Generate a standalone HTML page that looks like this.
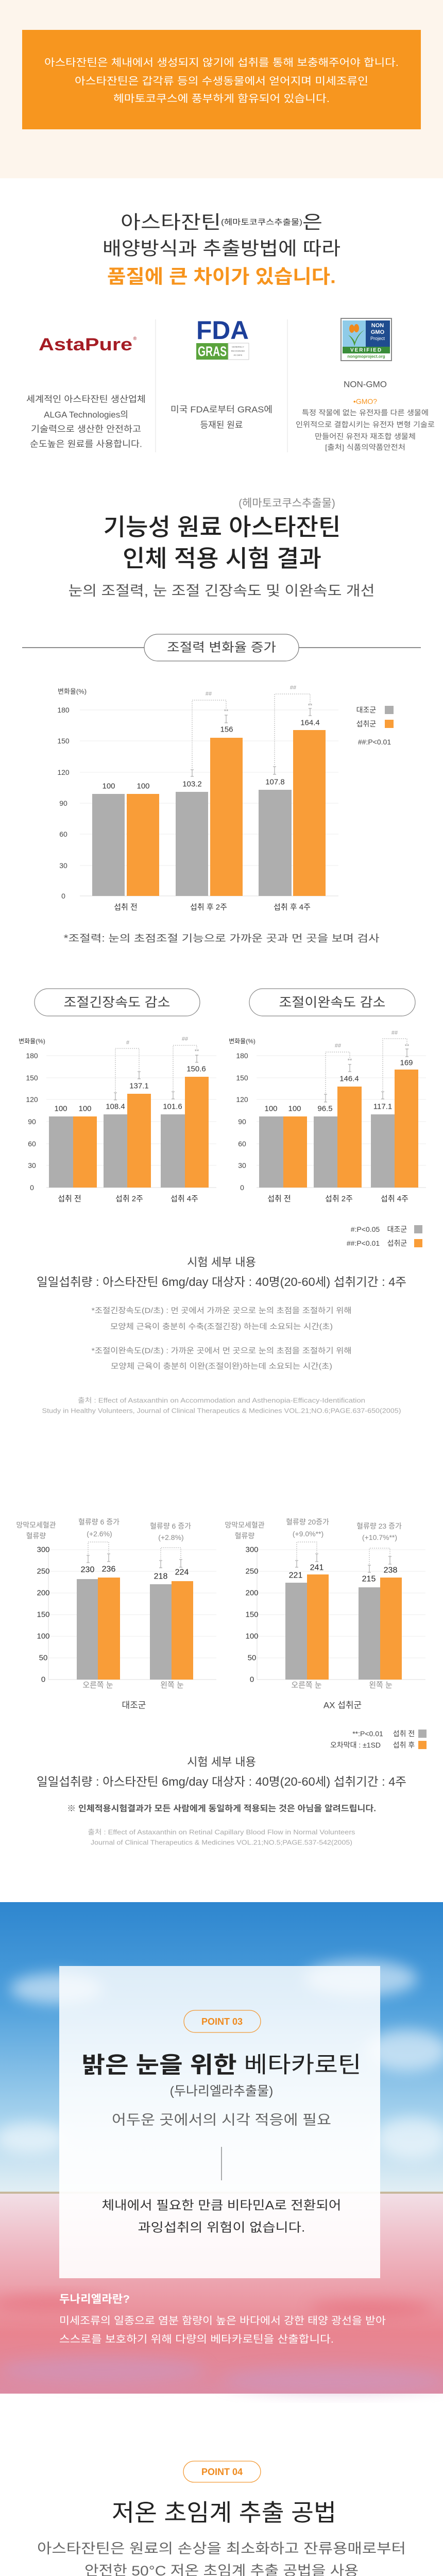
<!DOCTYPE html>
<html><head><meta charset="utf-8">
<style>
html,body{margin:0;padding:0;background:#fff;width:860px;height:5059px;overflow:hidden;}
svg{display:block;}
text{font-family:"Liberation Sans","Noto Sans CJK KR",sans-serif;dominant-baseline:central;text-anchor:middle;}
.g{fill:#aeaeae}.o{fill:#f99d38}
.dot{stroke:#aaa;stroke-width:1;stroke-dasharray:2,2;fill:none}
.eb{stroke:#999;stroke-width:1;fill:none}
.grid{stroke:#eee;stroke-width:1}
.tk{font-size:14px;fill:#444}
.vl{font-size:15px;fill:#333}
.sg{font-size:11px;fill:#999}
</style></head><body>
<svg width="860" height="5059" viewBox="0 0 860 5059" xmlns="http://www.w3.org/2000/svg">
<defs>
<linearGradient id="sky" x1="0" y1="0" x2="0" y2="1">
<stop offset="0" stop-color="#2e86cf"/><stop offset="0.35" stop-color="#4fa0dc"/><stop offset="0.75" stop-color="#a9d4ee"/><stop offset="1" stop-color="#e3eff4"/>
</linearGradient>
<linearGradient id="water" x1="0" y1="0" x2="0" y2="1">
<stop offset="0" stop-color="#f2dfe6"/><stop offset="0.3" stop-color="#eeb5c0"/><stop offset="0.7" stop-color="#e9848f"/><stop offset="1" stop-color="#dc8ca4"/>
</linearGradient>
<linearGradient id="panel" x1="0" y1="0" x2="0" y2="1">
<stop offset="0" stop-color="#fff" stop-opacity="0.82"/><stop offset="0.6" stop-color="#fff" stop-opacity="0.93"/><stop offset="1" stop-color="#fff" stop-opacity="0.9"/>
</linearGradient>
<filter id="bl"><feGaussianBlur stdDeviation="14"/></filter>
</defs>

<rect x="0" y="0" width="860" height="346" fill="#fdf5ec"/>
<rect x="43" y="58" width="774" height="193" fill="#f7961f"/>
<text x="430" y="122" font-size="20" fill="#fff" textLength="688" lengthAdjust="spacingAndGlyphs">아스타잔틴은 체내에서 생성되지 않기에 섭취를 통해 보충해주어야 합니다.</text>
<text x="430" y="158" font-size="20" fill="#fff" textLength="570" lengthAdjust="spacingAndGlyphs">아스타잔틴은 갑각류 등의 수생동물에서 얻어지며 미세조류인</text>
<text x="430" y="192" font-size="20" fill="#fff" textLength="420" lengthAdjust="spacingAndGlyphs">헤마토코쿠스에 풍부하게 함유되어 있습니다.</text>

<text x="430" y="431" fill="#333" font-size="36" textLength="392" lengthAdjust="spacingAndGlyphs">아스타잔틴<tspan font-size="15">(헤마토코쿠스추출물)</tspan>은</text>
<text x="430" y="482" fill="#333" font-size="36" textLength="462" lengthAdjust="spacingAndGlyphs">배양방식과 추출방법에 따라</text>
<text x="430" y="537" fill="#f7941d" font-size="37" font-weight="bold" textLength="444" lengthAdjust="spacingAndGlyphs">품질에 큰 차이가 있습니다.</text>

<line x1="302" y1="620" x2="302" y2="878" stroke="#e2e2e2"/>
<line x1="558" y1="620" x2="558" y2="878" stroke="#e2e2e2"/>
<text x="166" y="669" font-size="34" font-weight="bold" fill="#a51c24" textLength="182" lengthAdjust="spacingAndGlyphs">AstaPure</text>
<text x="262" y="657" font-size="9" fill="#a51c24">®</text>
<text x="432" y="641" font-size="50" font-weight="bold" fill="#1d3f99" textLength="102" lengthAdjust="spacingAndGlyphs">FDA</text>
<rect x="381" y="666" width="62" height="32" fill="#5aa33c"/>
<text x="412" y="682" font-size="27" font-weight="bold" fill="#fff" textLength="56" lengthAdjust="spacingAndGlyphs">GRAS</text>
<rect x="443" y="666" width="40" height="32" fill="#fff" stroke="#ccc"/>
<text x="462" y="673" font-size="4" fill="#555">GENERALLY</text>
<text x="462" y="681" font-size="4" fill="#555">RECOGNIZED</text>
<text x="462" y="689" font-size="4" fill="#555">AS SAFE</text>
<rect x="662" y="618" width="98" height="82" fill="#fff" stroke="#888" stroke-width="2"/>
<rect x="665" y="622" width="45" height="52" fill="#8fcbe8"/>
<rect x="710" y="622" width="47" height="52" fill="#1f4c8f"/>
<path d="M676 650 Q686 660 688 672 Q694 650 708 640 Q694 648 689 664 Q684 654 676 650Z" fill="#4a9a3a"/>
<ellipse cx="683" cy="638" rx="5" ry="8" fill="#f08a1c"/><ellipse cx="692" cy="637" rx="5" ry="8" fill="#f08a1c"/>
<text x="733" y="632" font-size="11" font-weight="bold" fill="#fff">NON</text>
<text x="733" y="645" font-size="11" font-weight="bold" fill="#fff">GMO</text>
<text x="733" y="657" font-size="9" fill="#fff">Project</text>
<rect x="665" y="673" width="92" height="13" fill="#3a8d3a"/>
<text x="711" y="680" font-size="10" font-weight="bold" fill="#fff" letter-spacing="2">VERIFIED</text>
<text x="711" y="692" font-size="8" font-weight="bold" fill="#4a9a3a">nongmoproject.org</text>

<g font-size="17" fill="#555">
<text x="167" y="775" textLength="232" lengthAdjust="spacingAndGlyphs">세계적인 아스타잔틴 생산업체</text>
<text x="167" y="805">ALGA Technologies의</text>
<text x="167" y="833" textLength="214" lengthAdjust="spacingAndGlyphs">기술력으로 생산한 안전하고</text>
<text x="167" y="862" textLength="218" lengthAdjust="spacingAndGlyphs">순도높은 원료를 사용합니다.</text>
<text x="430" y="795" textLength="198" lengthAdjust="spacingAndGlyphs">미국 FDA로부터 GRAS에</text>
<text x="430" y="825">등재된 원료</text>
</g>
<text x="709" y="746" font-size="17" fill="#555">NON-GMO</text>
<text x="709" y="779" font-size="14" fill="#f7941d">•GMO?</text>
<g font-size="14" fill="#666">
<text x="709" y="801" textLength="246" lengthAdjust="spacingAndGlyphs">특정 작물에 없는 유전자를 다른 생물에</text>
<text x="709" y="824" textLength="270" lengthAdjust="spacingAndGlyphs">인위적으로 결합시키는 유전자 변형 기술로</text>
<text x="709" y="847" textLength="196" lengthAdjust="spacingAndGlyphs">만들어진 유전자 재조합 생물체</text>
<text x="709" y="868" textLength="156" lengthAdjust="spacingAndGlyphs">[출처] 식품의약품안전처</text>
</g>

<text x="557" y="977" font-size="21" fill="#888">(헤마토코쿠스추출물)</text>
<text x="431" y="1023" font-size="46" fill="#222" font-weight="500" textLength="461" lengthAdjust="spacingAndGlyphs">기능성 원료 아스타잔틴</text>
<text x="431" y="1084" font-size="46" fill="#222" font-weight="500" textLength="386" lengthAdjust="spacingAndGlyphs">인체 적용 시험 결과</text>
<text x="430" y="1147" font-size="27" fill="#555" textLength="595" lengthAdjust="spacingAndGlyphs">눈의 조절력, 눈 조절 긴장속도 및 이완속도 개선</text>

<line x1="43" y1="1257" x2="817" y2="1257" stroke="#666" stroke-width="1.5"/>
<rect x="280" y="1231" width="300" height="52" rx="26" fill="#fff" stroke="#777" stroke-width="1.2"/>
<text x="430" y="1257" font-size="24" fill="#444" textLength="212" lengthAdjust="spacingAndGlyphs">조절력 변화율 증가</text>

<text x="140" y="1342" font-size="13" fill="#444">변화율(%)</text>
<g class="grid">
<line x1="155" y1="1378" x2="657" y2="1378"/><line x1="155" y1="1438" x2="657" y2="1438"/><line x1="155" y1="1499" x2="657" y2="1499"/>
<line x1="155" y1="1559" x2="657" y2="1559"/><line x1="155" y1="1619" x2="657" y2="1619"/><line x1="155" y1="1680" x2="657" y2="1680"/>
<line x1="155" y1="1739" x2="657" y2="1739" stroke="#ddd"/>
</g>
<g class="tk">
<text x="123" y="1378">180</text><text x="123" y="1438">150</text><text x="123" y="1499">120</text><text x="123" y="1559">90</text>
<text x="123" y="1619">60</text><text x="123" y="1680">30</text><text x="123" y="1739">0</text>
</g>
<rect class="g" x="179" y="1541" width="63" height="198"/><rect class="o" x="246" y="1541" width="63" height="198"/>
<rect class="g" x="341" y="1537" width="63" height="202"/><rect class="o" x="408" y="1432" width="63" height="307"/>
<rect class="g" x="502" y="1533" width="64" height="206"/><rect class="o" x="569" y="1417" width="63" height="322"/>
<g class="vl">
<text x="211" y="1526">100</text><text x="278" y="1526">100</text>
<text x="373" y="1522">103.2</text><text x="440" y="1416">156</text>
<text x="534" y="1518">107.8</text><text x="602" y="1403">164.4</text>
</g>
<path class="dot" d="M373 1491V1359H439V1376"/>
<path class="dot" d="M533 1485V1347H602V1366"/>
<path class="eb" d="M370 1494h6M373 1494v13M370 1507h6M436 1388h6M439 1388v15M436 1403h6M530 1488h6M533 1488v15M530 1503h6M599 1375h6M602 1375v14M599 1389h6"/>
<text class="sg" x="405" y="1347">##</text><text class="sg" x="439" y="1381">**</text>
<text class="sg" x="569" y="1335">##</text><text class="sg" x="602" y="1370">**</text>
<g font-size="15" fill="#333">
<text x="244" y="1761">섭취 전</text><text x="405" y="1761">섭취 후 2주</text><text x="567" y="1761">섭취 후 4주</text>
</g>
<text x="711" y="1378" font-size="14" fill="#444">대조군</text><rect class="g" x="747" y="1370" width="17" height="16"/>
<text x="711" y="1405" font-size="14" fill="#444">섭취군</text><rect class="o" x="747" y="1397" width="17" height="16"/>
<text x="727" y="1440" font-size="14" fill="#444">##:P&lt;0.01</text>

<text x="430" y="1822" font-size="19" fill="#555" textLength="613" lengthAdjust="spacingAndGlyphs">*조절력: 눈의 초점조절 기능으로 가까운 곳과 먼 곳을 보며 검사</text>

<rect x="67" y="1919" width="321" height="53" rx="26.5" fill="#fff" stroke="#888" stroke-width="1.2"/>
<text x="227" y="1946" font-size="25" fill="#444" textLength="207" lengthAdjust="spacingAndGlyphs">조절긴장속도 감소</text>
<rect x="484" y="1919" width="322" height="53" rx="26.5" fill="#fff" stroke="#888" stroke-width="1.2"/>
<text x="645" y="1946" font-size="25" fill="#444" textLength="207" lengthAdjust="spacingAndGlyphs">조절이완속도 감소</text>

<text x="62" y="2021" font-size="12" fill="#333">변화율(%)</text>
<g class="grid">
<line x1="90" y1="2049" x2="420" y2="2049"/><line x1="90" y1="2092" x2="420" y2="2092"/><line x1="90" y1="2134" x2="420" y2="2134"/>
<line x1="90" y1="2177" x2="420" y2="2177"/><line x1="90" y1="2220" x2="420" y2="2220"/><line x1="90" y1="2262" x2="420" y2="2262"/>
<line x1="90" y1="2305" x2="420" y2="2305" stroke="#ddd"/>
<line x1="498" y1="2049" x2="827" y2="2049"/><line x1="498" y1="2092" x2="827" y2="2092"/><line x1="498" y1="2134" x2="827" y2="2134"/>
<line x1="498" y1="2177" x2="827" y2="2177"/><line x1="498" y1="2220" x2="827" y2="2220"/><line x1="498" y1="2262" x2="827" y2="2262"/>
<line x1="498" y1="2305" x2="827" y2="2305" stroke="#ddd"/>
</g>
<g class="tk">
<text x="62" y="2049">180</text><text x="62" y="2092">150</text><text x="62" y="2134">120</text><text x="62" y="2177">90</text>
<text x="62" y="2220">60</text><text x="62" y="2262">30</text><text x="62" y="2305">0</text>
<text x="470" y="2049">180</text><text x="470" y="2092">150</text><text x="470" y="2134">120</text><text x="470" y="2177">90</text>
<text x="470" y="2220">60</text><text x="470" y="2262">30</text><text x="470" y="2305">0</text>
</g>
<rect class="g" x="95" y="2167" width="47" height="138"/><rect class="o" x="142" y="2167" width="46" height="138"/>
<rect class="g" x="201" y="2163" width="46" height="142"/><rect class="o" x="247" y="2123" width="46" height="182"/>
<rect class="g" x="312" y="2163" width="47" height="142"/><rect class="o" x="359" y="2090" width="46" height="215"/>
<g class="vl">
<text x="118" y="2152">100</text><text x="165" y="2152">100</text>
<text x="224" y="2148">108.4</text><text x="270" y="2108">137.1</text>
<text x="335" y="2148">101.6</text><text x="381" y="2075">150.6</text>
</g>
<path class="dot" d="M224 2119V2035H270V2078"/>
<path class="dot" d="M336 2117V2029H382V2036"/>
<path class="eb" d="M221 2121h6M224 2121v14M221 2135h6M267 2080h6M270 2080v14M267 2094h6M333 2119h6M336 2119v14M333 2133h6M379 2048h6M382 2048v14M379 2062h6"/>
<text class="sg" x="248" y="2024">#</text><text class="sg" x="359" y="2017">##</text><text class="sg" x="382" y="2041">**</text>
<g font-size="15" fill="#333">
<text x="135" y="2327">섭취 전</text><text x="251" y="2327">섭취 2주</text><text x="358" y="2327">섭취 4주</text>
</g>

<text x="470" y="2021" font-size="12" fill="#333">변화율(%)</text>
<rect class="g" x="503" y="2167" width="47" height="138"/><rect class="o" x="550" y="2167" width="46" height="138"/>
<rect class="g" x="609" y="2167" width="46" height="138"/><rect class="o" x="655" y="2109" width="47" height="196"/>
<rect class="g" x="720" y="2163" width="46" height="142"/><rect class="o" x="766" y="2076" width="46" height="229"/>
<g class="vl">
<text x="526" y="2152">100</text><text x="572" y="2152">100</text>
<text x="631" y="2152">96.5</text><text x="678" y="2094">146.4</text>
<text x="743" y="2148">117.1</text><text x="789" y="2063">169</text>
</g>
<path class="dot" d="M632 2122V2042H679V2054"/>
<path class="dot" d="M743 2117V2016H790V2026"/>
<path class="eb" d="M629 2124h6M632 2124v15M629 2139h6M676 2066h6M679 2066v14M676 2080h6M740 2119h6M743 2119v14M740 2133h6M787 2036h6M790 2036v15M787 2051h6"/>
<text class="sg" x="656" y="2030">##</text><text class="sg" x="679" y="2059">**</text>
<text class="sg" x="766" y="2005">##</text><text class="sg" x="790" y="2031">**</text>
<g font-size="15" fill="#333">
<text x="542" y="2327">섭취 전</text><text x="658" y="2327">섭취 2주</text><text x="766" y="2327">섭취 4주</text>
</g>
<g font-size="14" fill="#444">
<text x="709" y="2386">#:P&lt;0.05</text><text x="771" y="2386">대조군</text>
<text x="705" y="2413">##:P&lt;0.01</text><text x="771" y="2413">섭취군</text>
</g>
<rect class="g" x="804" y="2378" width="16" height="16"/><rect class="o" x="804" y="2405" width="16" height="16"/>

<text x="430" y="2450" font-size="22" fill="#444">시험 세부 내용</text>
<text x="430" y="2488" font-size="23" fill="#444" textLength="718" lengthAdjust="spacingAndGlyphs">일일섭취량 : 아스타잔틴 6mg/day    대상자 : 40명(20-60세)    섭취기간 : 4주</text>
<g font-size="15" fill="#888">
<text x="430" y="2544" textLength="505" lengthAdjust="spacingAndGlyphs">*조절긴장속도(D/초) : 먼 곳에서 가까운 곳으로 눈의 초점을 조절하기 위해</text>
<text x="430" y="2575" textLength="432" lengthAdjust="spacingAndGlyphs">모양체 근육이 충분히 수축(조절긴장) 하는데 소요되는 시간(초)</text>
<text x="430" y="2622" textLength="505" lengthAdjust="spacingAndGlyphs">*조절이완속도(D/초) : 가까운 곳에서 먼 곳으로 눈의 초점을 조절하기 위해</text>
<text x="430" y="2652" textLength="430" lengthAdjust="spacingAndGlyphs">모양체 근육이 충분히 이완(조절이완)하는데 소요되는 시간(초)</text>
</g>
<g font-size="13" fill="#aaa">
<text x="430" y="2718" textLength="558" lengthAdjust="spacingAndGlyphs">출처 : Effect of Astaxanthin on Accommodation and Asthenopia-Efficacy-Identification</text>
<text x="430" y="2738" textLength="697" lengthAdjust="spacingAndGlyphs">Study in Healthy Volunteers, Journal of Clinical Therapeutics &amp; Medicines VOL.21;NO.6;PAGE.637-650(2005)</text>
</g>

<g font-size="14" fill="#888">
<text x="70" y="2960">망막모세혈관</text><text x="70" y="2981">혈류량</text>
<text x="475" y="2960">망막모세혈관</text><text x="475" y="2981">혈류량</text>
<text x="192" y="2954">혈류량 6 증가</text><text x="193" y="2977">(+2.6%)</text>
<text x="331" y="2962">혈류량 6 증가</text><text x="332" y="2984">(+2.8%)</text>
<text x="597" y="2954">혈류량 20증가</text><text x="598" y="2977">(+9.0%**)</text>
<text x="736" y="2962">혈류량 23 증가</text><text x="737" y="2984">(+10.7%**)</text>
</g>
<g class="grid">
<line x1="94" y1="3008" x2="420" y2="3008"/><line x1="94" y1="3050" x2="420" y2="3050"/><line x1="94" y1="3092" x2="420" y2="3092"/>
<line x1="94" y1="3134" x2="420" y2="3134"/><line x1="94" y1="3176" x2="420" y2="3176"/><line x1="94" y1="3218" x2="420" y2="3218"/>
<line x1="94" y1="3260" x2="420" y2="3260" stroke="#ddd"/>
<line x1="94" y1="3008" x2="94" y2="3260" stroke="#ddd"/>
<line x1="499" y1="3008" x2="826" y2="3008"/><line x1="499" y1="3050" x2="826" y2="3050"/><line x1="499" y1="3092" x2="826" y2="3092"/>
<line x1="499" y1="3134" x2="826" y2="3134"/><line x1="499" y1="3176" x2="826" y2="3176"/><line x1="499" y1="3218" x2="826" y2="3218"/>
<line x1="499" y1="3260" x2="826" y2="3260" stroke="#ddd"/>
<line x1="499" y1="3008" x2="499" y2="3260" stroke="#ddd"/>
</g>
<g font-size="15" fill="#333" style="text-anchor:end">
<text x="84" y="3008" text-anchor="end">300</text><text x="84" y="3050" text-anchor="end">250</text><text x="84" y="3092" text-anchor="end">200</text>
<text x="84" y="3134" text-anchor="end">150</text><text x="84" y="3176" text-anchor="end">100</text><text x="84" y="3218" text-anchor="end">50</text><text x="84" y="3260" text-anchor="end">0</text>
<text x="489" y="3008" text-anchor="end">300</text><text x="489" y="3050" text-anchor="end">250</text><text x="489" y="3092" text-anchor="end">200</text>
<text x="489" y="3134" text-anchor="end">150</text><text x="489" y="3176" text-anchor="end">100</text><text x="489" y="3218" text-anchor="end">50</text><text x="489" y="3260" text-anchor="end">0</text>
</g>
<rect class="g" x="149" y="3065" width="41" height="195"/><rect class="o" x="190" y="3062" width="43" height="198"/>
<rect class="g" x="291" y="3075" width="42" height="185"/><rect class="o" x="333" y="3069" width="42" height="191"/>
<rect class="g" x="554" y="3072" width="42" height="188"/><rect class="o" x="596" y="3056" width="42" height="204"/>
<rect class="g" x="696" y="3081" width="42" height="179"/><rect class="o" x="738" y="3062" width="42" height="198"/>
<g font-size="16" fill="#222">
<text x="170" y="3047">230</text><text x="211" y="3046">236</text><text x="312" y="3060">218</text><text x="353" y="3052">224</text>
<text x="574" y="3058">221</text><text x="615" y="3043">241</text><text x="716" y="3065">215</text><text x="758" y="3048">238</text>
</g>
<path class="dot" d="M171 3017V2993H211V3014M312 3027V3004H351V3025M576 3027V2993H615V3014M717 3036V3005H757V3019"/>
<path class="eb" d="M168 3019h6M171 3019v14M168 3033h6M208 3016h6M211 3016v15M208 3031h6M309 3029h6M312 3029v14M309 3043h6M348 3027h6M351 3027v15M348 3042h6M573 3029h6M576 3029v13M573 3042h6M612 3016h6M615 3016v15M612 3031h6M714 3038h6M717 3038v14M714 3052h6M754 3021h6M757 3021v15M754 3036h6"/>
<g font-size="15" fill="#888">
<text x="190" y="3271">오른쪽 눈</text><text x="334" y="3271">왼쪽 눈</text>
<text x="595" y="3271">오른쪽 눈</text><text x="739" y="3271">왼쪽 눈</text>
</g>
<text x="260" y="3310" font-size="17" fill="#444">대조군</text>
<text x="665" y="3310" font-size="17" fill="#444">AX 섭취군</text>
<g font-size="14" fill="#444">
<text x="714" y="3365">**:P&lt;0.01</text><text x="784" y="3365">섭취 전</text>
<text x="690" y="3387">오차막대 : ±1SD</text><text x="784" y="3387">섭취 후</text>
</g>
<rect class="g" x="812" y="3357" width="16" height="16"/><rect class="o" x="812" y="3379" width="16" height="16"/>
<text x="430" y="3420" font-size="22" fill="#444">시험 세부 내용</text>
<text x="430" y="3458" font-size="23" fill="#444" textLength="718" lengthAdjust="spacingAndGlyphs">일일섭취량 : 아스타잔틴 6mg/day    대상자 : 40명(20-60세)    섭취기간 : 4주</text>
<text x="430" y="3511" font-size="16" fill="#555" font-weight="bold" textLength="600" lengthAdjust="spacingAndGlyphs">※ 인체적용시험결과가 모든 사람에게 동일하게 적용되는 것은 아님을 알려드립니다.</text>
<g font-size="13" fill="#aaa">
<text x="430" y="3556" textLength="519" lengthAdjust="spacingAndGlyphs">출처 : Effect of Astaxanthin on Retinal Capillary Blood Flow in Normal Volunteers</text>
<text x="430" y="3576" textLength="508" lengthAdjust="spacingAndGlyphs">Journal of Clinical Therapeutics &amp; Medicines VOL.21;NO.5;PAGE.537-542(2005)</text>
</g>

<rect x="0" y="3692" width="860" height="566" fill="url(#sky)"/>
<g filter="url(#bl)" fill="#fff" opacity="0.55">
<ellipse cx="110" cy="3860" rx="90" ry="30"/><ellipse cx="700" cy="3840" rx="110" ry="35"/>
<ellipse cx="790" cy="3980" rx="80" ry="40"/><ellipse cx="60" cy="4150" rx="70" ry="30"/><ellipse cx="800" cy="4150" rx="70" ry="40"/>
</g>
<rect x="0" y="4254" width="860" height="4" fill="#c7b89b"/>
<rect x="0" y="4258" width="860" height="388" fill="url(#water)"/>
<g filter="url(#bl)" opacity="0.5">
<ellipse cx="200" cy="4600" rx="200" ry="25" fill="#c99ac6"/><ellipse cx="650" cy="4620" rx="220" ry="25" fill="#c99ac6"/>
<ellipse cx="100" cy="4470" rx="120" ry="15" fill="#e5606e"/><ellipse cx="720" cy="4480" rx="120" ry="15" fill="#e5606e"/>
</g>
<rect x="115" y="3816" width="623" height="606" fill="url(#panel)"/>
<rect x="357" y="3902" width="149" height="43" rx="21.5" fill="none" stroke="#f29a36" stroke-width="1.3"/>
<text x="431" y="3924" font-size="18" font-weight="bold" fill="#ef8a1e">POINT 03</text>
<text x="430" y="4008" font-size="44" fill="#222" textLength="543" lengthAdjust="spacingAndGlyphs"><tspan font-weight="bold">밝은 눈을 위한</tspan> 베타카로틴</text>
<text x="430" y="4059" font-size="25" fill="#555">(두나리엘라추출물)</text>
<text x="430" y="4115" font-size="27" fill="#666" textLength="426" lengthAdjust="spacingAndGlyphs">어두운 곳에서의 시각 적응에 필요</text>
<line x1="430" y1="4167" x2="430" y2="4232" stroke="#555" stroke-width="1"/>
<text x="430" y="4281" font-size="24" fill="#333" textLength="465" lengthAdjust="spacingAndGlyphs">체내에서 필요한 만큼 비타민A로 전환되어</text>
<text x="430" y="4324" font-size="24" fill="#333" textLength="325" lengthAdjust="spacingAndGlyphs">과잉섭취의 위험이  없습니다.</text>
<text x="115" y="4463" font-size="21" font-weight="bold" fill="#fff" style="text-anchor:start" text-anchor="start" textLength="137" lengthAdjust="spacingAndGlyphs">두나리엘라란?</text>
<text x="115" y="4505" font-size="20" fill="#fff" text-anchor="start" style="text-anchor:start" textLength="634" lengthAdjust="spacingAndGlyphs">미세조류의 일종으로 염분 함량이 높은 바다에서 강한 태양 광선을 받아</text>
<text x="115" y="4541" font-size="20" fill="#fff" text-anchor="start" style="text-anchor:start" textLength="533" lengthAdjust="spacingAndGlyphs">스스로를 보호하기 위해 다량의 베타카로틴을 산출합니다.</text>

<rect x="356" y="4777" width="150" height="41" rx="20.5" fill="none" stroke="#f29a36" stroke-width="1.3"/>
<text x="431" y="4798" font-size="18" font-weight="bold" fill="#ef8a1e">POINT 04</text>
<text x="435" y="4877" font-size="46" fill="#222" textLength="436" lengthAdjust="spacingAndGlyphs">저온 초임계 추출 공법</text>
<text x="430" y="4947" font-size="27" fill="#666" textLength="716" lengthAdjust="spacingAndGlyphs">아스타잔틴은 원료의 손상을 최소화하고 잔류용매로부터</text>
<text x="430" y="4990" font-size="27" fill="#666" textLength="532" lengthAdjust="spacingAndGlyphs">안전한 50°C 저온 초임계 추출 공법을 사용</text>
</svg>
</body></html>
